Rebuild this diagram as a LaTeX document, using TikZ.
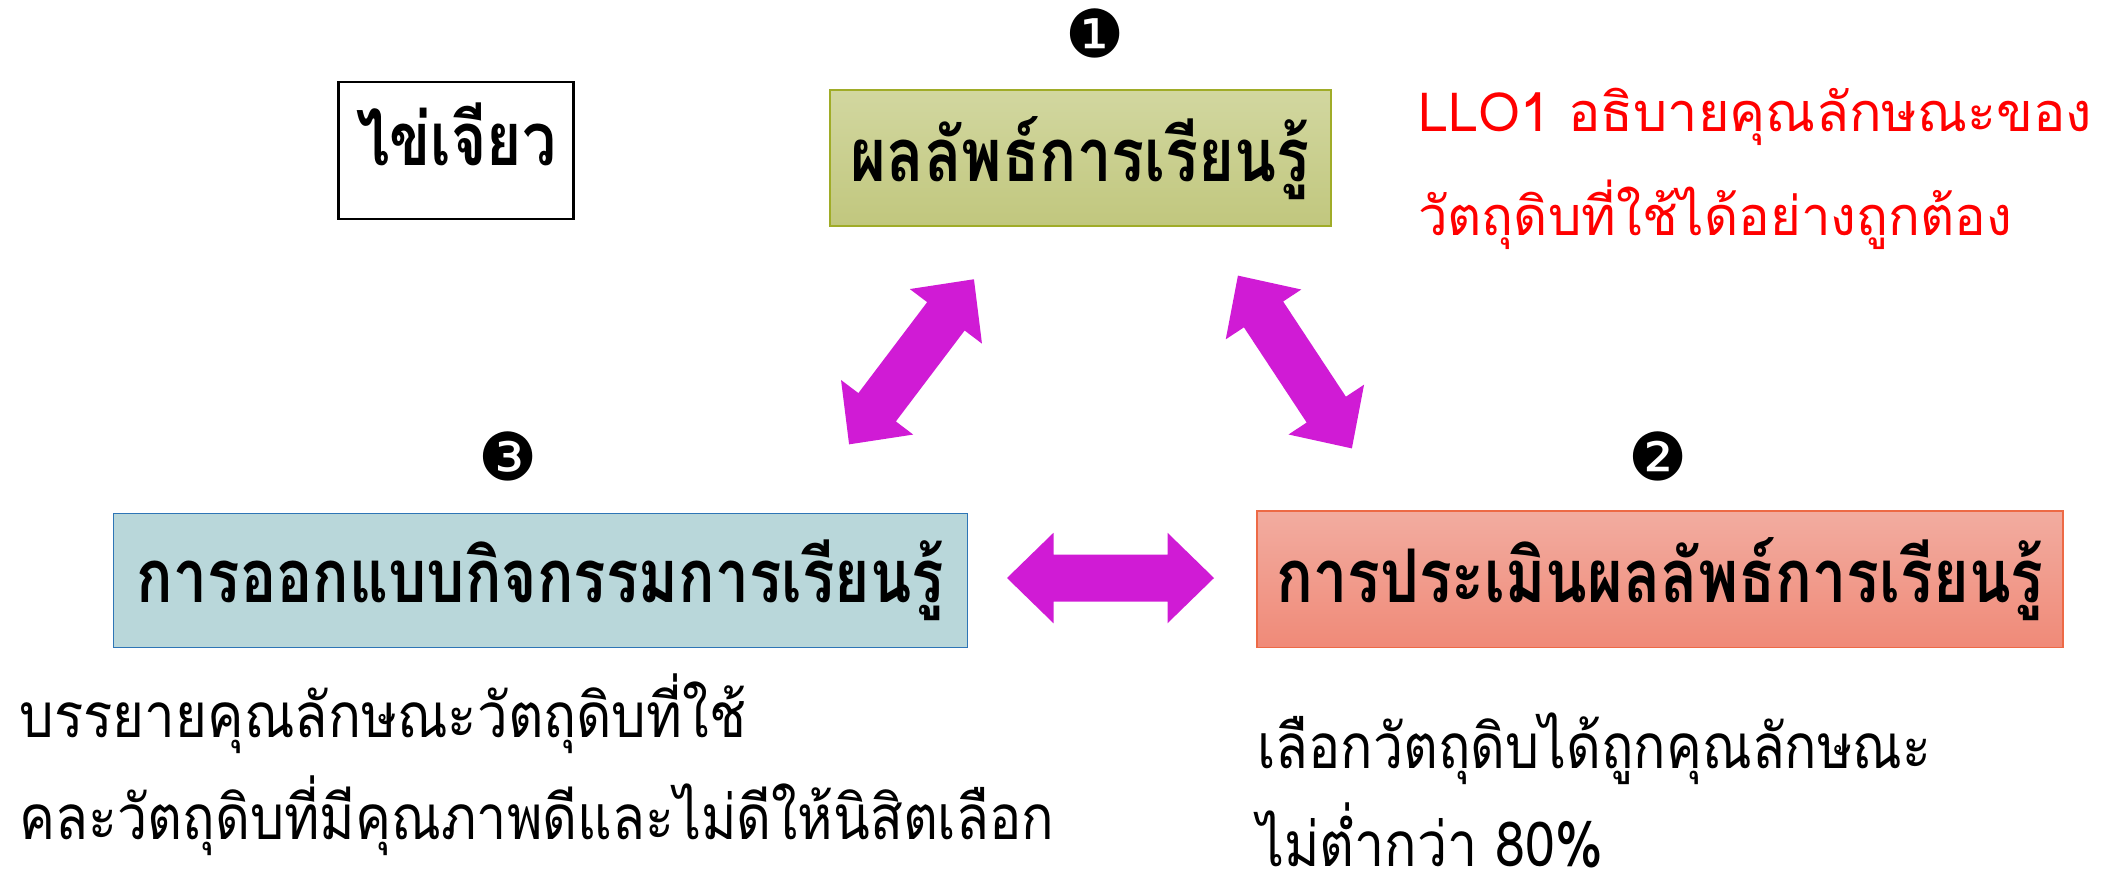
\documentclass[tikz,border=0pt]{standalone}
\usepackage{fontspec}
\usepackage{graphicx}
\newfontfamily\thai[Script=Thai]{Loma}
\newfontfamily\dingf{DejaVu Sans}
\definecolor{arrowmag}{RGB}{208,27,213}
\definecolor{gtop}{RGB}{210,215,160}
\definecolor{gbot}{RGB}{193,199,126}
\definecolor{gline}{RGB}{160,172,40}
\definecolor{bfill}{RGB}{185,215,218}
\definecolor{bline}{RGB}{46,117,182}
\definecolor{rtop}{RGB}{242,172,160}
\definecolor{rbot}{RGB}{240,138,120}
\definecolor{rline}{RGB}{237,106,70}
\newcommand{\fitw}[2]{\resizebox{#1}{\height}{#2}}
\tikzset{
  headbox/.style={inner sep=0pt, outer sep=0pt, anchor=base, font={\thai\bfseries\fontsize{37pt}{37pt}\selectfont}},
  redtxt/.style={inner sep=0pt, anchor=base west, text=red, font={\thai\fontsize{27pt}{27pt}\selectfont}},
  blacktxt/.style={inner sep=0pt, anchor=base west, text=black, font={\thai\fontsize{31pt}{31pt}\selectfont}},
  numdot/.style={inner sep=0pt, anchor=center, font={\dingf\fontsize{33pt}{33pt}\selectfont}},
  dblarr/.pic={
    \fill[arrowmag] (-103.5,0) -- (-57,45.25) -- (-57,23.5) -- (57,23.5) -- (57,45.25)
      -- (103.5,0) -- (57,-45.25) -- (57,-23.5) -- (-57,-23.5) -- (-57,-45.25) -- cycle;
  }
}
\begin{document}
\begin{tikzpicture}[x=0.5pt,y=-0.5pt]
\useasboundingbox (0,0) rectangle (2119,879);
% boxes
\node[headbox, draw=black, line width=1.2pt, fill=white, minimum width=117.5pt, text height=41.65pt, text depth=27pt] (egg) at (456.1,165) {\fitw{100pt}{ไข่เจียว}};
\node[headbox, draw=gline, line width=0.9pt, top color=gtop, bottom color=gbot, minimum width=250.7pt, text height=45.85pt, text depth=22pt] (outcome) at (1080.3,181.7) {\fitw{229.5pt}{ผลลัพธ์การเรียนรู้}};
\node[headbox, draw=bline, line width=0.7pt, fill=bfill, minimum width=427pt, text height=44.7pt, text depth=22.5pt] (design) at (540.5,602.7) {\fitw{403.5pt}{การออกแบบกิจกรรมการเรียนรู้}};
\node[headbox, draw=rline, line width=0.7pt, top color=rtop, bottom color=rbot, minimum width=403pt, text height=45.5pt, text depth=22.85pt] (assess) at (1660,602) {\fitw{383.75pt}{การประเมินผลลัพธ์การเรียนรู้}};
% numbers
\node[numdot] (n1) at (1094.8,33) {❶};
\node[numdot] (n2) at (1658,456) {❷};
\node[numdot] (n3) at (508,456) {❸};
% red objective text
\node[redtxt] (llo1) at (1417.7,131.7) {\fitw{337pt}{LLO1 อธิบายคุณลักษณะของ}};
\node[redtxt] (llo2) at (1417.7,235) {\fitw{297pt}{วัตถุดิบที่ใช้ได้อย่างถูกต้อง}};
% bottom texts
\node[blacktxt] (act1) at (19,737) {\fitw{363.5pt}{บรรยายคุณลักษณะวัตถุดิบที่ใช้}};
\node[blacktxt] (act2) at (19,839) {\fitw{517.5pt}{คละวัตถุดิบที่มีคุณภาพดีและไม่ดีให้นิสิตเลือก}};
\node[blacktxt] (crit1) at (1257,768) {\fitw{337pt}{เลือกวัตถุดิบได้ถูกคุณลักษณะ}};
\node[blacktxt] (crit2) at (1257,866) {\raisebox{0pt}[\height][0pt]{\fitw{173pt}{ไม่ต่ำกว่า 80\%}}};
% block arrows
\pic (a1) [rotate=52.9] at (911.5,361.8) {dblarr};
\pic (a2) [rotate=-56.6] at (1294.9,362) {dblarr};
\pic (a3) at (1110.5,578) {dblarr};
\end{tikzpicture}
\end{document}
